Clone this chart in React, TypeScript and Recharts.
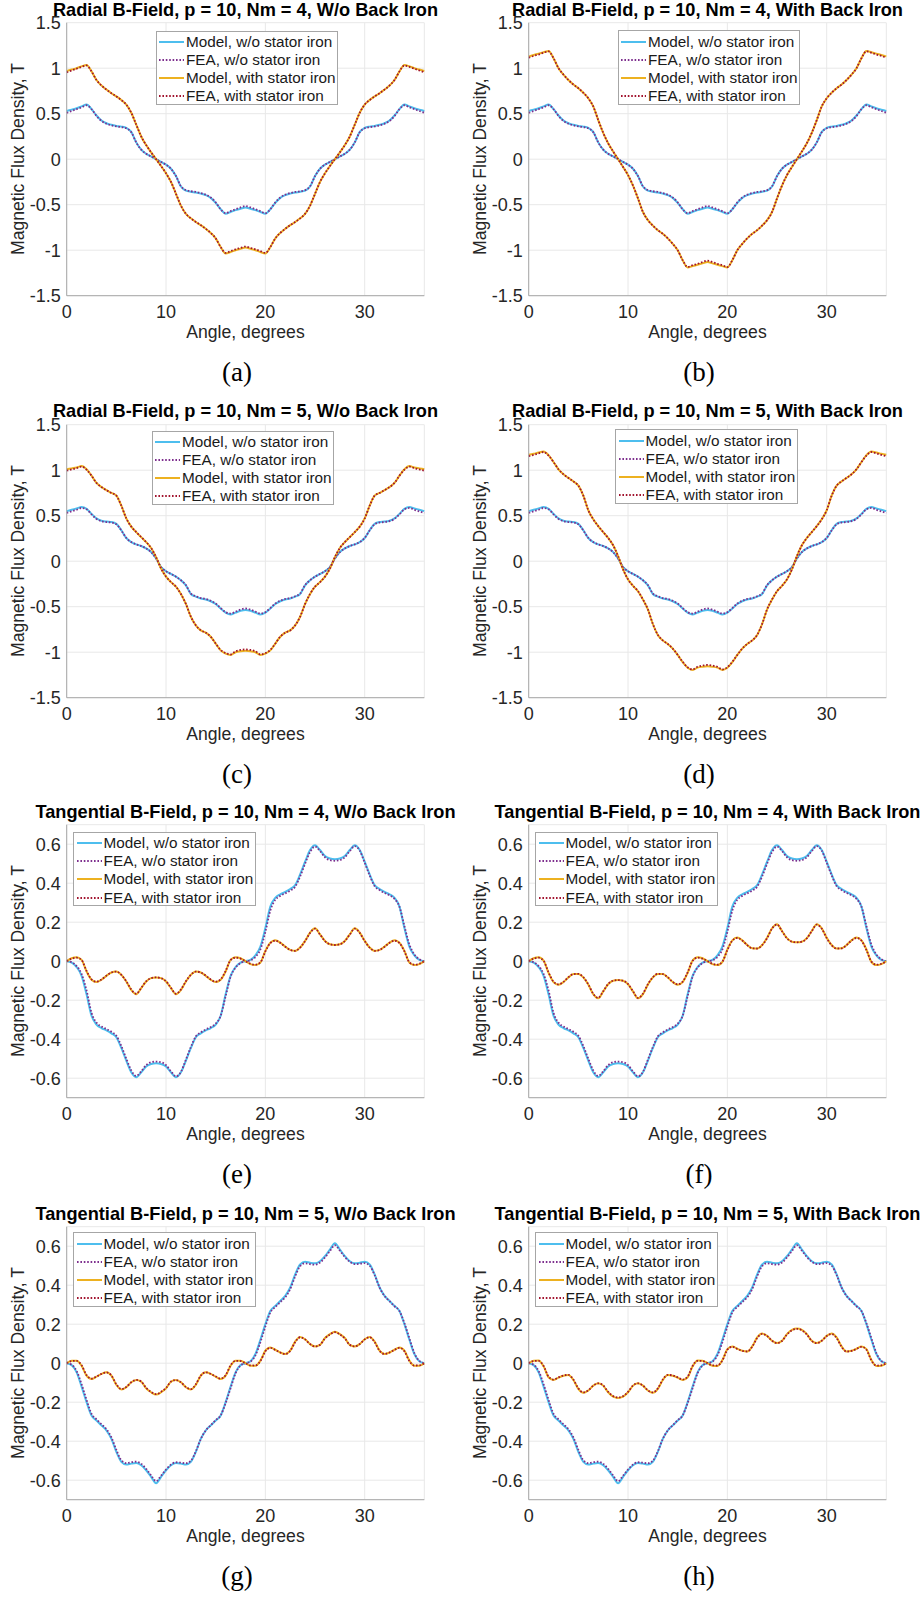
import React from "react";
import { LineChart, Line, XAxis, YAxis, CartesianGrid } from "recharts";

// Angle along one pole pair, degrees
const ANGLE = [
  0, 0.5, 1, 1.5, 2, 2.5, 3, 3.5, 4, 4.5, 5, 5.5, 6, 6.5, 7, 7.5, 8, 8.5, 9,
  9.5, 10, 10.5, 11, 11.5, 12, 12.5, 13, 13.5, 14, 14.5, 15, 15.5, 16, 16.5, 17, 17.5, 18,
  18.5, 19, 19.5, 20, 20.5, 21, 21.5, 22, 22.5, 23, 23.5, 24, 24.5, 25, 25.5, 26, 26.5, 27,
  27.5, 28, 28.5, 29, 29.5, 30, 30.5, 31, 31.5, 32, 32.5, 33, 33.5, 34, 34.5, 35, 35.5, 36,
];

const X_TICKS = [0, 10, 20, 30];
const RADIAL_TICKS = [-1.5, -1, -0.5, 0, 0.5, 1, 1.5];
const TANGENTIAL_TICKS = [-0.6, -0.4, -0.2, 0, 0.2, 0.4, 0.6];

// ---- Radial, Nm = 4 ----
const radial4Model = [
  0.53, 0.545, 0.56, 0.58, 0.6, 0.55, 0.48, 0.425, 0.395, 0.378, 0.366, 0.358, 0.345, 0.3, 0.185, 0.105, 0.06, 0.03, 0,
  -0.03, -0.06, -0.105, -0.185, -0.3, -0.345, -0.358, -0.366, -0.378, -0.395, -0.425, -0.48, -0.55, -0.6, -0.58, -0.56, -0.545, -0.53,
  -0.545, -0.56, -0.58, -0.6, -0.55, -0.48, -0.425, -0.395, -0.378, -0.366, -0.358, -0.345, -0.3, -0.185, -0.105, -0.06, -0.03, 0,
  0.03, 0.06, 0.105, 0.185, 0.3, 0.345, 0.358, 0.366, 0.378, 0.395, 0.425, 0.48, 0.55, 0.6, 0.58, 0.56, 0.545, 0.53,
];
const radial4Fea = [
  0.51, 0.53, 0.55, 0.57, 0.593, 0.55, 0.475, 0.42, 0.39, 0.372, 0.36, 0.352, 0.34, 0.297, 0.185, 0.105, 0.06, 0.03, 0,
  -0.03, -0.06, -0.105, -0.185, -0.297, -0.34, -0.352, -0.36, -0.372, -0.39, -0.42, -0.475, -0.55, -0.593, -0.57, -0.55, -0.53, -0.515,
  -0.53, -0.55, -0.57, -0.593, -0.55, -0.475, -0.42, -0.39, -0.372, -0.36, -0.352, -0.34, -0.297, -0.185, -0.105, -0.06, -0.03, 0,
  0.03, 0.06, 0.105, 0.185, 0.297, 0.34, 0.352, 0.36, 0.372, 0.39, 0.42, 0.475, 0.55, 0.593, 0.57, 0.55, 0.53, 0.51,
];
const radial4IronNoBack = [
  0.97, 0.985, 1.0, 1.02, 1.035, 0.965, 0.87, 0.81, 0.765, 0.725, 0.69, 0.65, 0.6, 0.51, 0.38, 0.25, 0.155, 0.075, 0,
  -0.075, -0.155, -0.25, -0.38, -0.51, -0.6, -0.65, -0.69, -0.725, -0.765, -0.81, -0.87, -0.965, -1.035, -1.02, -1.0, -0.985, -0.97,
  -0.985, -1.0, -1.02, -1.035, -0.965, -0.87, -0.81, -0.765, -0.725, -0.69, -0.65, -0.6, -0.51, -0.38, -0.25, -0.155, -0.075, 0,
  0.075, 0.155, 0.25, 0.38, 0.51, 0.6, 0.65, 0.69, 0.725, 0.765, 0.81, 0.87, 0.965, 1.035, 1.02, 1.0, 0.985, 0.97,
];
const radial4IronNoBackFea = [
  0.955, 0.975, 0.995, 1.015, 1.03, 0.965, 0.87, 0.81, 0.765, 0.725, 0.69, 0.65, 0.6, 0.51, 0.38, 0.25, 0.155, 0.075, 0,
  -0.075, -0.155, -0.25, -0.38, -0.51, -0.6, -0.65, -0.69, -0.725, -0.765, -0.81, -0.87, -0.965, -1.03, -1.01, -0.99, -0.975, -0.96,
  -0.975, -0.99, -1.01, -1.03, -0.965, -0.87, -0.81, -0.765, -0.725, -0.69, -0.65, -0.6, -0.51, -0.38, -0.25, -0.155, -0.075, 0,
  0.075, 0.155, 0.25, 0.38, 0.51, 0.6, 0.65, 0.69, 0.725, 0.765, 0.81, 0.87, 0.965, 1.03, 1.015, 0.995, 0.975, 0.955,
];
const radial4IronBack = [
  1.13, 1.145, 1.16, 1.175, 1.19, 1.11, 1.0, 0.93, 0.87, 0.82, 0.78, 0.73, 0.67, 0.58, 0.43, 0.29, 0.175, 0.085, 0,
  -0.085, -0.175, -0.29, -0.43, -0.58, -0.67, -0.73, -0.78, -0.82, -0.87, -0.93, -1.0, -1.11, -1.19, -1.175, -1.16, -1.145, -1.13,
  -1.145, -1.16, -1.175, -1.19, -1.11, -1.0, -0.93, -0.87, -0.82, -0.78, -0.73, -0.67, -0.58, -0.43, -0.29, -0.175, -0.085, 0,
  0.085, 0.175, 0.29, 0.43, 0.58, 0.67, 0.73, 0.78, 0.82, 0.87, 0.93, 1.0, 1.11, 1.19, 1.175, 1.16, 1.145, 1.13,
];
const radial4IronBackFea = [
  1.115, 1.135, 1.15, 1.17, 1.185, 1.11, 1.0, 0.93, 0.87, 0.82, 0.78, 0.73, 0.67, 0.58, 0.43, 0.29, 0.175, 0.085, 0,
  -0.085, -0.175, -0.29, -0.43, -0.58, -0.67, -0.73, -0.78, -0.82, -0.87, -0.93, -1.0, -1.11, -1.185, -1.165, -1.15, -1.13, -1.115,
  -1.13, -1.15, -1.165, -1.185, -1.11, -1.0, -0.93, -0.87, -0.82, -0.78, -0.73, -0.67, -0.58, -0.43, -0.29, -0.175, -0.085, 0,
  0.085, 0.175, 0.29, 0.43, 0.58, 0.67, 0.73, 0.78, 0.82, 0.87, 0.93, 1.0, 1.11, 1.185, 1.17, 1.15, 1.135, 1.115,
];

// ---- Radial, Nm = 5 ----
const radial5Model = [
  0.55, 0.565, 0.58, 0.595, 0.575, 0.52, 0.47, 0.445, 0.435, 0.43, 0.41, 0.34, 0.255, 0.21, 0.185, 0.167, 0.14, 0.1, 0.03,
  -0.065, -0.11, -0.14, -0.17, -0.21, -0.265, -0.36, -0.39, -0.41, -0.42, -0.44, -0.47, -0.52, -0.565, -0.585, -0.565, -0.545, -0.535,
  -0.545, -0.565, -0.585, -0.565, -0.52, -0.47, -0.44, -0.42, -0.41, -0.39, -0.36, -0.265, -0.21, -0.17, -0.14, -0.11, -0.065, 0.03,
  0.1, 0.14, 0.167, 0.185, 0.21, 0.255, 0.34, 0.41, 0.43, 0.435, 0.445, 0.47, 0.52, 0.575, 0.595, 0.58, 0.565, 0.55,
];
const radial5Fea = [
  0.53, 0.548, 0.565, 0.585, 0.57, 0.515, 0.465, 0.44, 0.43, 0.425, 0.405, 0.338, 0.255, 0.21, 0.185, 0.167, 0.14, 0.1, 0.03,
  -0.065, -0.11, -0.14, -0.17, -0.21, -0.262, -0.355, -0.385, -0.405, -0.415, -0.435, -0.465, -0.515, -0.56, -0.575, -0.555, -0.532, -0.52,
  -0.532, -0.555, -0.575, -0.56, -0.515, -0.465, -0.435, -0.415, -0.405, -0.385, -0.355, -0.262, -0.21, -0.17, -0.14, -0.11, -0.065, 0.03,
  0.1, 0.14, 0.167, 0.185, 0.21, 0.255, 0.338, 0.405, 0.425, 0.43, 0.44, 0.465, 0.515, 0.57, 0.585, 0.565, 0.548, 0.53,
];
const radial5IronNoBack = [
  1.01, 1.02, 1.03, 1.045, 1.01, 0.94, 0.86, 0.815, 0.78, 0.75, 0.72, 0.61, 0.47, 0.38, 0.32, 0.265, 0.21, 0.145, 0.045,
  -0.08, -0.17, -0.23, -0.28, -0.36, -0.47, -0.61, -0.705, -0.76, -0.785, -0.83, -0.905, -0.98, -1.015, -1.03, -1.0, -0.99, -0.985,
  -0.99, -1.0, -1.03, -1.015, -0.98, -0.905, -0.83, -0.785, -0.76, -0.705, -0.61, -0.47, -0.36, -0.28, -0.23, -0.17, -0.08, 0.045,
  0.145, 0.21, 0.265, 0.32, 0.38, 0.47, 0.61, 0.72, 0.75, 0.78, 0.815, 0.86, 0.94, 1.01, 1.045, 1.03, 1.02, 1.01,
];
const radial5IronNoBackFea = [
  0.995, 1.008, 1.022, 1.04, 1.005, 0.94, 0.86, 0.815, 0.78, 0.75, 0.72, 0.61, 0.47, 0.38, 0.32, 0.265, 0.21, 0.145, 0.045,
  -0.08, -0.17, -0.23, -0.28, -0.36, -0.47, -0.61, -0.705, -0.76, -0.785, -0.83, -0.905, -0.975, -1.01, -1.025, -0.99, -0.975, -0.97,
  -0.975, -0.99, -1.025, -1.01, -0.975, -0.905, -0.83, -0.785, -0.76, -0.705, -0.61, -0.47, -0.36, -0.28, -0.23, -0.17, -0.08, 0.045,
  0.145, 0.21, 0.265, 0.32, 0.38, 0.47, 0.61, 0.72, 0.75, 0.78, 0.815, 0.86, 0.94, 1.005, 1.04, 1.022, 1.008, 0.995,
];
const radial5IronBack = [
  1.17, 1.18, 1.195, 1.205, 1.165, 1.09, 1.01, 0.955, 0.915, 0.877, 0.83, 0.72, 0.56, 0.46, 0.385, 0.32, 0.255, 0.175, 0.055,
  -0.09, -0.2, -0.27, -0.33, -0.42, -0.53, -0.69, -0.81, -0.87, -0.91, -0.96, -1.03, -1.11, -1.17, -1.195, -1.17, -1.16, -1.155,
  -1.16, -1.17, -1.195, -1.17, -1.11, -1.03, -0.96, -0.91, -0.87, -0.81, -0.69, -0.53, -0.42, -0.33, -0.27, -0.2, -0.09, 0.055,
  0.175, 0.255, 0.32, 0.385, 0.46, 0.56, 0.72, 0.83, 0.877, 0.915, 0.955, 1.01, 1.09, 1.165, 1.205, 1.195, 1.18, 1.17,
];
const radial5IronBackFea = [
  1.155, 1.168, 1.185, 1.2, 1.16, 1.09, 1.01, 0.955, 0.915, 0.877, 0.83, 0.72, 0.56, 0.46, 0.385, 0.32, 0.255, 0.175, 0.055,
  -0.09, -0.2, -0.27, -0.33, -0.42, -0.53, -0.69, -0.81, -0.87, -0.91, -0.96, -1.03, -1.105, -1.165, -1.19, -1.16, -1.148, -1.14,
  -1.148, -1.16, -1.19, -1.165, -1.105, -1.03, -0.96, -0.91, -0.87, -0.81, -0.69, -0.53, -0.42, -0.33, -0.27, -0.2, -0.09, 0.055,
  0.175, 0.255, 0.32, 0.385, 0.46, 0.56, 0.72, 0.83, 0.877, 0.915, 0.955, 1.01, 1.09, 1.16, 1.2, 1.185, 1.168, 1.155,
];

// ---- Tangential, Nm = 4 ----
const tang4Model = [
  0, -0.007, -0.03, -0.075, -0.17, -0.28, -0.325, -0.343, -0.355, -0.37, -0.39, -0.445, -0.51, -0.57, -0.595, -0.57, -0.54, -0.527, -0.523,
  -0.527, -0.54, -0.57, -0.595, -0.57, -0.51, -0.445, -0.39, -0.37, -0.355, -0.343, -0.325, -0.28, -0.17, -0.075, -0.03, -0.007, 0,
  0.007, 0.03, 0.075, 0.17, 0.28, 0.325, 0.343, 0.355, 0.37, 0.39, 0.445, 0.51, 0.57, 0.595, 0.57, 0.54, 0.527, 0.523,
  0.527, 0.54, 0.57, 0.595, 0.57, 0.51, 0.445, 0.39, 0.37, 0.355, 0.343, 0.325, 0.28, 0.17, 0.075, 0.03, 0.007, 0,
];
const tang4Fea = [
  0, -0.005, -0.025, -0.065, -0.15, -0.265, -0.315, -0.335, -0.348, -0.362, -0.382, -0.435, -0.5, -0.56, -0.588, -0.565, -0.533, -0.518, -0.515,
  -0.518, -0.533, -0.565, -0.59, -0.567, -0.505, -0.44, -0.385, -0.365, -0.35, -0.338, -0.32, -0.28, -0.18, -0.08, -0.033, -0.01, 0,
  0.005, 0.022, 0.06, 0.15, 0.26, 0.315, 0.335, 0.348, 0.362, 0.382, 0.435, 0.5, 0.56, 0.588, 0.565, 0.533, 0.518, 0.515,
  0.518, 0.533, 0.565, 0.59, 0.567, 0.505, 0.44, 0.385, 0.365, 0.35, 0.338, 0.32, 0.28, 0.18, 0.085, 0.035, 0.01, 0,
];
const tang4IronNoBack = [
  0, 0.015, 0.02, 0.007, -0.053, -0.095, -0.107, -0.095, -0.075, -0.058, -0.053, -0.07, -0.104, -0.147, -0.169, -0.138, -0.104, -0.087, -0.083,
  -0.087, -0.104, -0.138, -0.169, -0.147, -0.104, -0.07, -0.053, -0.058, -0.075, -0.095, -0.107, -0.095, -0.053, 0.007, 0.02, 0.015, 0,
  -0.015, -0.02, -0.007, 0.053, 0.095, 0.107, 0.095, 0.075, 0.058, 0.053, 0.07, 0.104, 0.147, 0.169, 0.138, 0.104, 0.087, 0.083,
  0.087, 0.104, 0.138, 0.169, 0.147, 0.104, 0.07, 0.053, 0.058, 0.075, 0.095, 0.107, 0.095, 0.053, -0.007, -0.02, -0.015, 0,
];
const tang4IronNoBackFea = [
  0, 0.013, 0.018, 0.006, -0.05, -0.093, -0.105, -0.094, -0.074, -0.058, -0.053, -0.07, -0.103, -0.145, -0.167, -0.137, -0.103, -0.087, -0.083,
  -0.087, -0.103, -0.137, -0.167, -0.145, -0.103, -0.07, -0.053, -0.058, -0.074, -0.094, -0.105, -0.093, -0.05, 0.006, 0.018, 0.013, 0,
  -0.013, -0.018, -0.006, 0.05, 0.093, 0.105, 0.094, 0.074, 0.058, 0.053, 0.07, 0.103, 0.145, 0.167, 0.137, 0.103, 0.087, 0.083,
  0.087, 0.103, 0.137, 0.167, 0.145, 0.103, 0.07, 0.053, 0.058, 0.074, 0.094, 0.105, 0.093, 0.05, -0.006, -0.018, -0.013, 0,
];
const tang4IronBack = [
  0, 0.015, 0.02, 0.003, -0.06, -0.107, -0.121, -0.107, -0.083, -0.066, -0.065, -0.083, -0.12, -0.169, -0.19, -0.155, -0.118, -0.1, -0.097,
  -0.1, -0.118, -0.155, -0.19, -0.169, -0.12, -0.083, -0.065, -0.066, -0.083, -0.107, -0.121, -0.107, -0.06, 0.003, 0.02, 0.015, 0,
  -0.015, -0.02, -0.003, 0.06, 0.107, 0.121, 0.107, 0.083, 0.066, 0.065, 0.083, 0.12, 0.169, 0.19, 0.155, 0.118, 0.1, 0.097,
  0.1, 0.118, 0.155, 0.19, 0.169, 0.12, 0.083, 0.065, 0.066, 0.083, 0.107, 0.121, 0.107, 0.06, -0.003, -0.02, -0.015, 0,
];
const tang4IronBackFea = [
  0, 0.013, 0.018, 0.002, -0.057, -0.105, -0.119, -0.106, -0.082, -0.066, -0.065, -0.082, -0.118, -0.167, -0.188, -0.154, -0.117, -0.1, -0.097,
  -0.1, -0.117, -0.154, -0.188, -0.167, -0.118, -0.082, -0.065, -0.066, -0.082, -0.106, -0.119, -0.105, -0.057, 0.002, 0.018, 0.013, 0,
  -0.013, -0.018, -0.002, 0.057, 0.105, 0.119, 0.106, 0.082, 0.066, 0.065, 0.082, 0.118, 0.167, 0.188, 0.154, 0.117, 0.1, 0.097,
  0.1, 0.117, 0.154, 0.188, 0.167, 0.118, 0.082, 0.065, 0.066, 0.082, 0.106, 0.119, 0.105, 0.057, -0.002, -0.018, -0.013, 0,
];

// ---- Tangential, Nm = 5 ----
const tang5Model = [
  0, -0.01, -0.047, -0.12, -0.2, -0.268, -0.294, -0.319, -0.345, -0.388, -0.455, -0.506, -0.52, -0.515, -0.512, -0.523, -0.549, -0.583, -0.615,
  -0.583, -0.549, -0.523, -0.512, -0.515, -0.52, -0.506, -0.455, -0.388, -0.345, -0.319, -0.294, -0.268, -0.2, -0.12, -0.047, -0.01, 0,
  0.01, 0.047, 0.12, 0.2, 0.268, 0.294, 0.319, 0.345, 0.388, 0.455, 0.506, 0.52, 0.515, 0.512, 0.523, 0.549, 0.583, 0.615,
  0.583, 0.549, 0.523, 0.512, 0.515, 0.52, 0.506, 0.455, 0.388, 0.345, 0.319, 0.294, 0.268, 0.2, 0.12, 0.047, 0.01, 0,
];
const tang5Fea = [
  0, -0.008, -0.04, -0.108, -0.188, -0.26, -0.288, -0.313, -0.338, -0.38, -0.445, -0.498, -0.512, -0.508, -0.505, -0.516, -0.542, -0.575, -0.605,
  -0.577, -0.545, -0.52, -0.508, -0.51, -0.513, -0.5, -0.452, -0.388, -0.345, -0.318, -0.292, -0.268, -0.205, -0.128, -0.052, -0.012, 0,
  0.008, 0.04, 0.108, 0.188, 0.26, 0.288, 0.313, 0.338, 0.38, 0.445, 0.498, 0.512, 0.508, 0.505, 0.516, 0.542, 0.575, 0.605,
  0.577, 0.545, 0.52, 0.508, 0.51, 0.513, 0.5, 0.452, 0.388, 0.345, 0.318, 0.292, 0.268, 0.205, 0.128, 0.052, 0.012, 0,
];
const tang5IronNoBack = [
  0, 0.013, 0.013, -0.013, -0.064, -0.081, -0.069, -0.055, -0.047, -0.064, -0.111, -0.135, -0.123, -0.098, -0.086, -0.094, -0.129, -0.149, -0.161,
  -0.149, -0.129, -0.094, -0.086, -0.098, -0.123, -0.135, -0.111, -0.064, -0.047, -0.055, -0.069, -0.081, -0.064, -0.013, 0.013, 0.013, 0,
  -0.013, -0.013, 0.013, 0.064, 0.081, 0.069, 0.055, 0.047, 0.064, 0.111, 0.135, 0.123, 0.098, 0.086, 0.094, 0.129, 0.149, 0.161,
  0.149, 0.129, 0.094, 0.086, 0.098, 0.123, 0.135, 0.111, 0.064, 0.047, 0.055, 0.069, 0.081, 0.064, 0.013, -0.013, -0.013, 0,
];
const tang5IronNoBackFea = [
  0, 0.011, 0.012, -0.011, -0.061, -0.079, -0.068, -0.055, -0.047, -0.063, -0.108, -0.133, -0.122, -0.098, -0.086, -0.094, -0.127, -0.147, -0.159,
  -0.147, -0.127, -0.094, -0.086, -0.098, -0.122, -0.133, -0.108, -0.063, -0.047, -0.055, -0.068, -0.079, -0.061, -0.011, 0.012, 0.011, 0,
  -0.011, -0.012, 0.011, 0.061, 0.079, 0.068, 0.055, 0.047, 0.063, 0.108, 0.133, 0.122, 0.098, 0.086, 0.094, 0.127, 0.147, 0.159,
  0.147, 0.127, 0.094, 0.086, 0.098, 0.122, 0.133, 0.108, 0.063, 0.047, 0.055, 0.068, 0.079, 0.061, 0.011, -0.012, -0.011, 0,
];
const tang5IronBack = [
  0, 0.013, 0.014, -0.016, -0.072, -0.086, -0.074, -0.064, -0.06, -0.086, -0.132, -0.152, -0.14, -0.115, -0.103, -0.115, -0.149, -0.171, -0.178,
  -0.171, -0.149, -0.115, -0.103, -0.115, -0.14, -0.152, -0.132, -0.086, -0.06, -0.064, -0.074, -0.086, -0.072, -0.016, 0.014, 0.013, 0,
  -0.013, -0.014, 0.016, 0.072, 0.086, 0.074, 0.064, 0.06, 0.086, 0.132, 0.152, 0.14, 0.115, 0.103, 0.115, 0.149, 0.171, 0.178,
  0.171, 0.149, 0.115, 0.103, 0.115, 0.14, 0.152, 0.132, 0.086, 0.06, 0.064, 0.074, 0.086, 0.072, 0.016, -0.014, -0.013, 0,
];
const tang5IronBackFea = [
  0, 0.011, 0.012, -0.014, -0.069, -0.084, -0.073, -0.063, -0.06, -0.084, -0.129, -0.15, -0.139, -0.115, -0.103, -0.114, -0.147, -0.169, -0.176,
  -0.169, -0.147, -0.114, -0.103, -0.115, -0.139, -0.15, -0.129, -0.084, -0.06, -0.063, -0.073, -0.084, -0.069, -0.014, 0.012, 0.011, 0,
  -0.011, -0.012, 0.014, 0.069, 0.084, 0.073, 0.063, 0.06, 0.084, 0.129, 0.15, 0.139, 0.115, 0.103, 0.114, 0.147, 0.169, 0.176,
  0.169, 0.147, 0.114, 0.103, 0.115, 0.139, 0.15, 0.129, 0.084, 0.06, 0.063, 0.073, 0.084, 0.069, 0.014, -0.012, -0.011, 0,
];

const SANS = '"Liberation Sans", Arial, Helvetica, sans-serif';
const SERIF = '"Liberation Serif", "DejaVu Serif", serif';

const SERIES = [
  { key: "modelFree", name: "Model, w/o stator iron", color: "#4DBEEE", width: 2, dash: undefined },
  { key: "feaFree", name: "FEA, w/o stator iron", color: "#7E2F8E", width: 1.8, dash: "1.6 1.8" },
  { key: "modelIron", name: "Model, with stator iron", color: "#EDB120", width: 2, dash: undefined },
  { key: "feaIron", name: "FEA, with stator iron", color: "#A2142F", width: 1.8, dash: "1.6 1.8" },
];

const PANELS = [
  { title: "Radial B-Field, p = 10, Nm = 4, W/o Back Iron", tag: "(a)", radial: true,
    modelFree: radial4Model, feaFree: radial4Fea, modelIron: radial4IronNoBack, feaIron: radial4IronNoBackFea, legend: [155.7, 30.5] },
  { title: "Radial B-Field, p = 10, Nm = 4, With Back Iron", tag: "(b)", radial: true,
    modelFree: radial4Model, feaFree: radial4Fea, modelIron: radial4IronBack, feaIron: radial4IronBackFea, legend: [155.7, 30] },
  { title: "Radial B-Field, p = 10, Nm = 5, W/o Back Iron", tag: "(c)", radial: true,
    modelFree: radial5Model, feaFree: radial5Fea, modelIron: radial5IronNoBack, feaIron: radial5IronNoBackFea, legend: [151.7, 29] },
  { title: "Radial B-Field, p = 10, Nm = 5, With Back Iron", tag: "(d)", radial: true,
    modelFree: radial5Model, feaFree: radial5Fea, modelIron: radial5IronBack, feaIron: radial5IronBackFea, legend: [153.3, 27.8] },
  { title: "Tangential B-Field, p = 10, Nm = 4, W/o Back Iron", tag: "(e)", radial: false,
    modelFree: tang4Model, feaFree: tang4Fea, modelIron: tang4IronNoBack, feaIron: tang4IronNoBackFea, legend: [73.3, 29.4] },
  { title: "Tangential B-Field, p = 10, Nm = 4, With Back Iron", tag: "(f)", radial: false,
    modelFree: tang4Model, feaFree: tang4Fea, modelIron: tang4IronBack, feaIron: tang4IronBackFea, legend: [73.3, 29.4] },
  { title: "Tangential B-Field, p = 10, Nm = 5, W/o Back Iron", tag: "(g)", radial: false,
    modelFree: tang5Model, feaFree: tang5Fea, modelIron: tang5IronNoBack, feaIron: tang5IronNoBackFea, legend: [73.3, 28.3] },
  { title: "Tangential B-Field, p = 10, Nm = 5, With Back Iron", tag: "(h)", radial: false,
    modelFree: tang5Model, feaFree: tang5Fea, modelIron: tang5IronBack, feaIron: tang5IronBackFea, legend: [73.3, 28.3] },
];

const ROW_TOPS = [0, 401.6, 802.3, 1204];
const PANEL_W = 462;
const PLOT_LEFT = 66.7;
const PLOT_TOP = 22.7;
const PLOT_W = 357.6;
const PLOT_H = 273;
const PLOT_CX = PLOT_LEFT + PLOT_W / 2;

function LegendBox({ left, top }: { left: number; top: number }) {
  return (
    <div
      style={{
        position: "absolute", left, top, width: 182.5, height: 74.5, boxSizing: "border-box",
        border: "1px solid #a6a6a6", background: "#fff", paddingTop: 1.5,
      }}
    >
      {SERIES.map((s) => (
        <div key={s.key} style={{ height: 18.1, display: "flex", alignItems: "center" }}>
          <svg width={25} height={6} style={{ marginLeft: 2.3, marginRight: 2, flex: "none" }}>
            <line x1={0} y1={3} x2={25} y2={3} stroke={s.color} strokeWidth={s.width} strokeDasharray={s.dash} />
          </svg>
          <span style={{ fontSize: 15.3, lineHeight: "18px", color: "#1a1a1a", whiteSpace: "nowrap" }}>{s.name}</span>
        </div>
      ))}
    </div>
  );
}

function Panel({ p, left, top }: { p: (typeof PANELS)[number]; left: number; top: number }) {
  const rows = ANGLE.map((angle, i) => ({
    angle,
    modelFree: p.modelFree[i],
    feaFree: p.feaFree[i],
    modelIron: p.modelIron[i],
    feaIron: p.feaIron[i],
  }));
  const yTicks = p.radial ? RADIAL_TICKS : TANGENTIAL_TICKS;
  const yDomain = p.radial ? [-1.5, 1.5] : [-0.7, 0.7];

  return (
    <div style={{ position: "absolute", left, top, width: PANEL_W, height: 400, fontFamily: SANS }}>
      <div
        style={{
          position: "absolute", left: PLOT_CX, top: 0.6, transform: "translateX(-50%)",
          fontSize: 18.2, fontWeight: 700, lineHeight: 1, whiteSpace: "nowrap", color: "#000",
        }}
      >
        {p.title}
      </div>

      <LineChart
        width={PANEL_W}
        height={330}
        data={rows}
        margin={{ top: PLOT_TOP, right: PANEL_W - PLOT_LEFT - PLOT_W, bottom: 4.3, left: 0 }}
        style={{ fontFamily: SANS }}
      >
        <CartesianGrid stroke="#e8e8e8" strokeWidth={1} />
        <XAxis
          dataKey="angle"
          type="number"
          domain={[0, 36]}
          ticks={X_TICKS}
          tickLine={false}
          tickSize={6}
          tickMargin={3.4}
          axisLine={{ stroke: "#a8a8a8" }}
          tick={{ fontSize: 18, fill: "#262626" }}
        />
        <YAxis
          type="number"
          domain={yDomain}
          ticks={yTicks}
          width={PLOT_LEFT}
          tickLine={false}
          tickSize={4}
          tickMargin={2}
          axisLine={{ stroke: "#a8a8a8" }}
          tick={{ fontSize: 18, fill: "#262626" }}
        />
        {SERIES.map((s) => (
          <Line
            key={s.key}
            dataKey={s.key}
            type="monotone"
            stroke={s.color}
            strokeWidth={s.width}
            strokeDasharray={s.dash}
            dot={false}
            activeDot={false}
            isAnimationActive={false}
          />
        ))}
      </LineChart>

      <LegendBox left={p.legend[0]} top={p.legend[1]} />

      <div
        style={{
          position: "absolute", left: 19, top: PLOT_TOP + PLOT_H / 2,
          transform: "translate(-50%, -50%) rotate(-90deg)",
          fontSize: 17.6, lineHeight: 1, whiteSpace: "nowrap", color: "#262626",
        }}
      >
        Magnetic Flux Density, T
      </div>
      <div
        style={{
          position: "absolute", left: PLOT_CX, top: 324.1, transform: "translateX(-50%)",
          fontSize: 17.6, lineHeight: 1, whiteSpace: "nowrap", color: "#262626",
        }}
      >
        Angle, degrees
      </div>
      <div
        style={{
          position: "absolute", left: 237, top: 359, transform: "translateX(-50%)",
          fontSize: 27, lineHeight: 1, fontFamily: SERIF, color: "#000",
        }}
      >
        {p.tag}
      </div>
    </div>
  );
}

export default function App() {
  return (
    <div style={{ position: "absolute", left: 0, top: 0, width: 924, height: 1600, background: "#fff" }}>
      {PANELS.map((p, i) => (
        <Panel key={p.tag} p={p} left={(i % 2) * PANEL_W} top={ROW_TOPS[Math.floor(i / 2)]} />
      ))}
    </div>
  );
}
